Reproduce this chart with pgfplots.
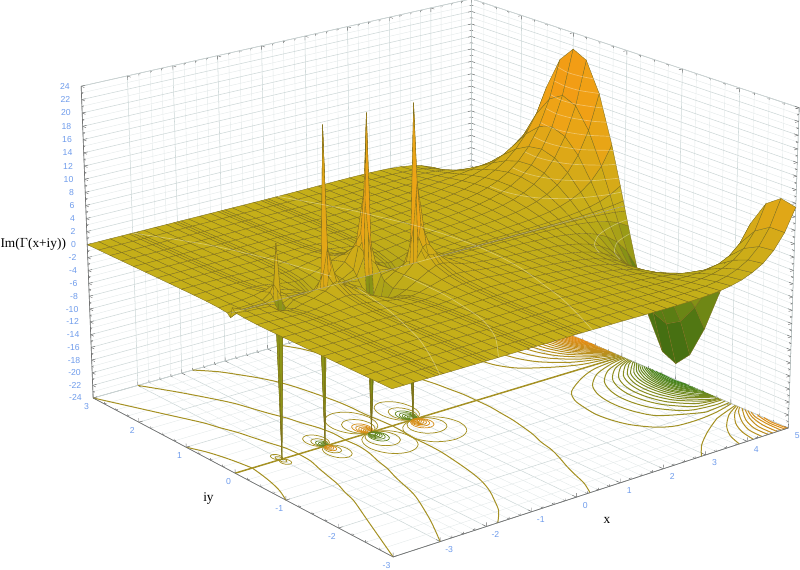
\documentclass[border=0pt]{standalone}
\usepackage{pgfplots}
\usepackage{pgfplotstable}
\pgfplotsset{compat=1.18}
\usepackage{fontspec}
\setmainfont{Liberation Serif}
\newfontfamily\tickfont{Liberation Sans}
\definecolor{tickblue}{RGB}{110,155,235}
\definecolor{wallgrid}{RGB}{205,215,215}
\definecolor{colive}{RGB}{165,145,35}
\definecolor{cup}{RGB}{235,140,20}
\definecolor{cdown}{RGB}{60,130,30}
\definecolor{meshline}{RGB}{125,110,30}
% perspective of the reference box, replaces the parallel projection
\makeatletter
\newdimen\pa \newdimen\pb \newdimen\pc \newdimen\pX \newdimen\pY \newdimen\pW
\def\perspqpoint#1#2#3{%
  \pa=#1pt \pb=#2pt \pc=#3pt
  \pX=333.04pt \advance\pX by 38.24\pa \advance\pX by -36.19\pb \advance\pX by -0.253\pc
  \pY=246.41pt \advance\pY by 11.70\pa \advance\pY by 22.29\pb \advance\pY by 5.156\pc
  \pW=1.07494pt \advance\pW by 0.00901\pa \advance\pW by 0.01883\pb \advance\pW by -0.000733\pc
  \pgf@x=\dimexpr\pX*65536/\pW\relax
  \pgf@y=\dimexpr\pY*65536/\pW\relax
}
\makeatother
% surface values, one row per x, columns in the order of \ylist
\def\ylist{-3,-2.75,-2.5,-2.25,-2,-1.75,-1.5,-1.25,-1,-0.75,-0.5,-0.25,-0.08,-0.02,0,0.02,0.08,0.25,0.5,0.75,1,1.25,1.5,1.75,2,2.25,2.5,2.75,3}
\def\coords{}
\newcommand\zr[2]{\foreach \v [count=\i] in {#2} {%
  \pgfmathparse{{\ylist}[\i-1]}\xdef\coords{\coords (#1,\pgfmathresult,\v)}}}
\zr{-4}{0,0,0,0,0,0,0,0,0,0.01,0.04,0.14,0.3,0.8,0,-0.8,-0.3,-0.14,-0.04,-0.01,0,0,0,0,0,0,0,0,0}
\zr{-3.75}{0,0,0,0,0,0,0,-0.01,-0.01,-0.01,0,0.04,0.04,0.01,0,-0.01,-0.04,-0.04,0,0.01,0.01,0.01,0,0,0,0,0,0,0}
\zr{-3.5}{0,0,0,0,0,0,-0.01,-0.01,-0.03,-0.05,-0.07,-0.07,-0.03,-0.01,0,0.01,0.03,0.07,0.07,0.05,0.03,0.01,0.01,0,0,0,0,0,0}
\zr{-3.25}{0,0,0,0,0,0,-0.01,-0.01,-0.03,-0.08,-0.16,-0.27,-0.17,-0.05,0,0.05,0.17,0.27,0.16,0.08,0.03,0.01,0.01,0,0,0,0,0,0}
\zr{-3.08}{0,0,0,0,0,0,0,-0.01,-0.03,-0.08,-0.21,-0.54,-1.04,-0.49,0,0.49,1.04,0.54,0.21,0.08,0.03,0.01,0,0,0,0,0,0,0}
\zr{-3}{0,0,0,0,0,0,0,0,-0.02,-0.06,-0.19,-0.58,-2.05,-24,0,8.33,2.05,0.58,0.19,0.06,0.02,0,0,0,0,0,0,0,0}
\zr{-2.92}{0,0,0,0,0,0,0,0,-0.01,-0.04,-0.17,-0.52,-1.04,-0.49,0,0.49,1.04,0.52,0.17,0.04,0.01,0,0,0,0,0,0,0,0}
\zr{-2.75}{0,0,0,0,0,0,0.01,0.02,0.03,0.02,-0.05,-0.18,-0.14,-0.04,0,0.04,0.14,0.18,0.05,-0.02,-0.03,-0.02,-0.01,0,0,0,0,0,0}
\zr{-2.5}{0,0,0,0,0,0.01,0.02,0.05,0.09,0.14,0.21,0.20,0.08,0.02,0,-0.02,-0.08,-0.20,-0.21,-0.14,-0.09,-0.05,-0.02,-0.01,0,0,0,0,0}
\zr{-2.25}{0,0,0,0,0,0.01,0.02,0.06,0.12,0.26,0.51,0.82,0.52,0.15,0,-0.15,-0.52,-0.82,-0.51,-0.26,-0.12,-0.06,-0.02,-0.01,0,0,0,0,0}
\zr{-2.08}{0,0,0,0,0,0.01,0.02,0.04,0.12,0.29,0.66,1.64,3.1,1.47,0,-1.47,-3.1,-1.64,-0.66,-0.29,-0.12,-0.04,-0.02,-0.01,0,0,0,0,0}
\zr{-2}{0,0,0,0,0,0,0.01,0.03,0.10,0.26,0.64,1.78,6.18,24,0,-24,-6.18,-1.78,-0.64,-0.26,-0.10,-0.03,-0.01,0,0,0,0,0,0}
\zr{-1.92}{0,0,0,0,0,-0.01,0,0.02,0.08,0.23,0.58,1.58,3.1,1.47,0,-1.47,-3.1,-1.58,-0.58,-0.23,-0.08,-0.02,0,0.01,0,0,0,0,0}
\zr{-1.75}{0,0,0,0,-0.01,-0.02,-0.03,-0.03,-0.01,0.06,0.28,0.65,0.45,0.13,0,-0.13,-0.45,-0.65,-0.28,-0.06,0.01,0.03,0.03,0.02,0.01,0,0,0,0}
\zr{-1.5}{0,0,0,-0.01,-0.02,-0.04,-0.07,-0.11,-0.17,-0.26,-0.35,-0.32,-0.13,-0.03,0,0.03,0.13,0.32,0.35,0.26,0.17,0.11,0.07,0.04,0.02,0.01,0,0,0}
\zr{-1.25}{0,0,0,-0.01,-0.02,-0.04,-0.09,-0.16,-0.31,-0.58,-1.06,-1.67,-1.05,-0.29,0,0.29,1.05,1.67,1.06,0.58,0.31,0.16,0.09,0.04,0.02,0.01,0,0,0}
\zr{-1.08}{0,0,0,-0.01,-0.02,-0.04,-0.08,-0.17,-0.35,-0.69,-1.43,-3.35,-6.2,-2.9,0,2.9,6.2,3.35,1.43,0.69,0.35,0.17,0.08,0.04,0.02,0.01,0,0,0}
\zr{-1}{0,0,0,0,-0.01,-0.03,-0.07,-0.16,-0.33,-0.67,-1.44,-3.67,-12.4,-24,0,24,12.4,3.67,1.44,0.67,0.33,0.16,0.07,0.03,0.01,0,0,0,0}
\zr{-0.92}{0,0,0,0,-0.01,-0.02,-0.06,-0.15,-0.31,-0.63,-1.37,-3.31,-6.2,-2.9,0,2.9,6.2,3.31,1.37,0.63,0.31,0.15,0.06,0.02,0.01,0,0,0,0}
\zr{-0.75}{0,0,0.01,0.01,0.01,0,-0.02,-0.07,-0.19,-0.42,-0.89,-1.55,-1.0,-0.28,0,0.28,1.0,1.55,0.89,0.42,0.19,0.07,0.02,0,-0.01,-0.01,-0.01,0,0}
\zr{-0.5}{0,0.01,0.02,0.03,0.04,0.05,0.06,0.07,0.07,0.07,0.06,0.03,0.01,0,0,0,-0.01,-0.03,-0.06,-0.07,-0.07,-0.07,-0.06,-0.05,-0.04,-0.03,-0.02,-0.01,0}
\zr{-0.25}{0,0.01,0.03,0.04,0.06,0.09,0.14,0.21,0.33,0.57,1.01,1.61,1.02,0.29,0,-0.29,-1.02,-1.61,-1.01,-0.57,-0.33,-0.21,-0.14,-0.09,-0.06,-0.04,-0.03,-0.01,0}
\zr{-0.08}{0.01,0.01,0.03,0.05,0.07,0.11,0.18,0.29,0.47,0.81,1.51,3.38,6.2,3.0,0,-3.0,-6.2,-3.38,-1.51,-0.81,-0.47,-0.29,-0.18,-0.11,-0.07,-0.05,-0.03,-0.01,-0.01}
\zr{0}{0.01,0.01,0.03,0.05,0.08,0.12,0.19,0.31,0.50,0.86,1.60,3.77,12.43,24,0,-24,-12.43,-3.77,-1.60,-0.86,-0.50,-0.31,-0.19,-0.12,-0.08,-0.05,-0.03,-0.01,-0.01}
\zr{0.08}{0,0.01,0.03,0.05,0.08,0.13,0.20,0.33,0.53,0.89,1.61,3.46,6.2,2.9,0,-2.9,-6.2,-3.46,-1.61,-0.89,-0.53,-0.33,-0.20,-0.13,-0.08,-0.05,-0.03,-0.01,0}
\zr{0.25}{0,0.01,0.02,0.04,0.08,0.13,0.21,0.33,0.52,0.82,1.31,1.84,1.11,0.31,0,-0.31,-1.11,-1.84,-1.31,-0.82,-0.52,-0.33,-0.21,-0.13,-0.08,-0.04,-0.02,-0.01,0}
\zr{0.5}{-0.01,0,0.01,0.03,0.06,0.11,0.18,0.28,0.43,0.60,0.76,0.67,0.28,0.07,0,-0.07,-0.28,-0.67,-0.76,-0.60,-0.43,-0.28,-0.18,-0.11,-0.06,-0.03,-0.01,0,0.01}
\zr{0.75}{-0.02,-0.02,-0.01,0,0.03,0.07,0.12,0.20,0.29,0.38,0.41,0.29,0.11,0.03,0,-0.03,-0.11,-0.29,-0.41,-0.38,-0.29,-0.20,-0.12,-0.07,-0.03,0,0.01,0.02,0.02}
\zr{1}{-0.03,-0.04,-0.04,-0.04,-0.02,0.01,0.05,0.10,0.16,0.20,0.20,0.13,0.05,0.01,0,-0.01,-0.05,-0.13,-0.20,-0.20,-0.16,-0.10,-0.05,-0.01,0.02,0.04,0.04,0.04,0.03}
\zr{1.25}{-0.05,-0.06,-0.08,-0.08,-0.08,-0.07,-0.04,-0.01,0.03,0.06,0.07,0.05,0.02,0,0,0,-0.02,-0.05,-0.07,-0.06,-0.03,0.01,0.04,0.07,0.08,0.08,0.08,0.06,0.05}
\zr{1.5}{-0.07,-0.09,-0.12,-0.14,-0.15,-0.15,-0.14,-0.12,-0.09,-0.06,-0.03,-0.01,0,0,0,0,0,0.01,0.03,0.06,0.09,0.12,0.14,0.15,0.15,0.14,0.12,0.09,0.07}
\zr{1.75}{-0.08,-0.12,-0.16,-0.20,-0.23,-0.25,-0.25,-0.24,-0.21,-0.17,-0.11,-0.06,-0.02,0,0,0,0.02,0.06,0.11,0.17,0.21,0.24,0.25,0.25,0.23,0.20,0.16,0.12,0.08}
\zr{2}{-0.09,-0.15,-0.21,-0.27,-0.32,-0.36,-0.38,-0.38,-0.34,-0.28,-0.20,-0.10,-0.03,-0.01,0,0.01,0.03,0.10,0.20,0.28,0.34,0.38,0.38,0.36,0.32,0.27,0.21,0.15,0.09}
\zr{2.25}{-0.09,-0.17,-0.25,-0.35,-0.43,-0.50,-0.54,-0.54,-0.50,-0.42,-0.31,-0.16,-0.05,-0.01,0,0.01,0.05,0.16,0.31,0.42,0.50,0.54,0.54,0.50,0.43,0.35,0.25,0.17,0.09}
\zr{2.5}{-0.07,-0.17,-0.29,-0.43,-0.56,-0.66,-0.73,-0.75,-0.71,-0.60,-0.44,-0.23,-0.07,-0.02,0,0.02,0.07,0.23,0.44,0.60,0.71,0.75,0.73,0.66,0.56,0.43,0.29,0.17,0.07}
\zr{2.75}{-0.03,-0.16,-0.32,-0.51,-0.70,-0.87,-0.98,-1.02,-0.98,-0.84,-0.61,-0.32,-0.11,-0.03,0,0.03,0.11,0.32,0.61,0.84,0.98,1.02,0.98,0.87,0.70,0.51,0.32,0.16,0.03}
\zr{3}{0.06,-0.10,-0.33,-0.60,-0.87,-1.12,-1.30,-1.39,-1.34,-1.16,-0.85,-0.45,-0.15,-0.04,0,0.04,0.15,0.45,0.85,1.16,1.34,1.39,1.30,1.12,0.87,0.60,0.33,0.10,-0.06}
\zr{3.25}{0.21,0,-0.30,-0.67,-1.07,-1.44,-1.73,-1.88,-1.84,-1.61,-1.19,-0.64,-0.21,-0.05,0,0.05,0.21,0.64,1.19,1.61,1.84,1.88,1.73,1.44,1.07,0.67,0.30,0,-0.21}
\zr{3.5}{0.47,0.21,-0.19,-0.71,-1.29,-1.85,-2.30,-2.55,-2.54,-2.25,-1.68,-0.90,-0.29,-0.07,0,0.07,0.29,0.90,1.68,2.25,2.54,2.55,2.30,1.85,1.29,0.71,0.19,-0.21,-0.47}
\zr{3.75}{0.87,0.57,0.04,-0.69,-1.53,-2.37,-3.07,-3.50,-3.54,-3.16,-2.38,-1.28,-0.42,-0.10,0,0.10,0.42,1.28,2.38,3.16,3.54,3.50,3.07,2.37,1.53,0.69,-0.04,-0.57,-0.87}
\zr{4}{1.51,1.18,0.48,-0.54,-1.77,-3.03,-4.12,-4.83,-4.98,-4.50,-3.41,-1.84,-0.60,-0.15,0,0.15,0.60,1.84,3.41,4.50,4.98,4.83,4.12,3.03,1.77,0.54,-0.48,-1.18,-1.51}
\zr{4.25}{2.42,2.10,1.22,-0.20,-1.98,-3.88,-5.57,-6.72,-7.07,-6.47,-4.94,-2.67,-0.88,-0.22,0,0.22,0.88,2.67,4.94,6.47,7.07,6.72,5.57,3.88,1.98,0.20,-1.22,-2.10,-2.42}
\zr{4.5}{3.90,3.65,2.54,0.56,-2.05,-4.92,-7.57,-9.44,-10.13,-9.39,-7.23,-3.93,-1.29,-0.32,0,0.32,1.29,3.93,7.23,9.39,10.13,9.44,7.57,4.92,2.05,-0.56,-2.54,-3.65,-3.90}
\zr{4.75}{6.11,6.09,4.71,1.99,-1.84,-6.21,-10.33,-13.39,-14.67,-13.78,-10.69,-5.84,-1.92,-0.48,0,0.48,1.92,5.84,10.69,13.78,14.67,13.39,10.33,6.21,1.84,-1.99,-4.71,-6.09,-6.11}
\zr{5}{9.41,9.92,8.35,4.57,-1.06,-7.72,-14.19,-19.15,-21.47,-20.43,-15.98,-8.76,-2.89,-0.72,0,0.72,2.89,8.76,15.98,20.43,21.47,19.15,14.19,7.72,1.06,-4.57,-8.35,-9.92,-9.41}
\pgfplotsset{
  gamma surf/.style={surf,shader=faceted,faceted color=meshline,line width=0.25pt,z buffer=sort,
    mesh/rows=45,mesh/cols=29,point meta=z,forget plot},
  cline/.style={no marks,smooth,tension=0.5,line width=0.75pt,forget plot},
  wline/.style={no marks,smooth,tension=0.5,draw=white,draw opacity=0.35,line width=0.5pt,forget plot},
}
% contour on the floor, same curve on both sides of the real axis
\newcommand\lobe[3]{%
  \addplot3[cline,draw=cup!#1!colive] table[row sep=\\,header=false,x index=0,y index=1,z expr=-24] {#3};
  \addplot3[cline,draw=cdown!#2!colive] table[row sep=\\,header=false,x index=0,y expr=-\thisrowno{1},z expr=-24] {#3};
}
% same for the far side, where the sign of the level is the other way round
\newcommand\rlobe[3]{%
  \addplot3[cline,draw=cdown!#1!colive] table[row sep=\\,header=false,x index=0,y index=1,z expr=-24] {#3};
  \addplot3[cline,draw=cup!#2!colive] table[row sep=\\,header=false,x index=0,y expr=-\thisrowno{1},z expr=-24] {#3};
}
% white level line lying on the surface
\newcommand\lift[2]{%
  \addplot3[wline] table[row sep=\\,header=false,x index=0,y index=1,z expr=#1] {#2};
}
\pgfplotstableread[row sep=\\]{
cx cy cz\\ 1 0 0\\ 0.92 0.38 0\\ 0.71 0.71 0\\ 0.38 0.92 0\\ 0 1 0\\ -0.38 0.92 0\\ -0.71 0.71 0\\ -0.92 0.38 0\\
-1 0 0\\ -0.92 -0.38 0\\ -0.71 -0.71 0\\ -0.38 -0.92 0\\ 0 -1 0\\ 0.38 -0.92 0\\ 0.71 -0.71 0\\ 0.92 -0.38 0\\ 1 0 0\\
}\unitcirc
% rings around a pole: position, side, stretch along x, colour, radii
\newcommand\rings[5]{\pgfplotsinvokeforeach{#5}{%
  \addplot3[cline,draw=#4,line width=0.55pt] table[x expr=#1+#3*##1*\thisrow{cx},y expr=#2*##1*(1+\thisrow{cy}),z expr=-24] {\unitcirc};}}
\begin{document}
\begin{tikzpicture}
\useasboundingbox ({-413.3*0.75pt},{-305.7*0.75pt}) rectangle ({386.7*0.75pt},{263.3*0.75pt});
\begin{axis}[
  at={(0,0)},anchor=origin,
  disabledatascaling,
  execute at begin axis={\global\let\pgfplotsqpointxyz\perspqpoint},
  x={(33pt,10.7pt)},y={(-37.5pt,19.9pt)},z={(0pt,4.875pt)},
  xmin=-4,xmax=5,ymin=-3,ymax=3,zmin=-24,zmax=24,
  xtick={-3,...,5},ytick={-3,...,3},ztick={-24,-22,...,24},
  minor x tick num=3,minor y tick num=3,minor z tick num=1,
  grid=both,
  major grid style={wallgrid,line width=0.4pt},
  minor grid style={wallgrid!55,line width=0.3pt},
  axis line style={wallgrid!85!black,line width=0.4pt},
  tick style={black!60,line width=0.3pt},
  major tick length=3pt,minor tick length=1.5pt,
  /pgf/number format/assume math mode=true,
  tick label style={font=\tickfont\fontsize{6.5}{7}\selectfont,text=tickblue},
  xticklabel style={anchor=center,xshift=6.75pt,yshift=-6pt},
  yticklabel style={anchor=center,xshift=-5pt,yshift=-6.5pt},
  zticklabel style={anchor=east,xshift=-5pt},
  colormap={gammamap}{rgb255(0pt)=(45,95,15); rgb255(12pt)=(90,125,20); rgb255(24pt)=(197,175,25); rgb255(36pt)=(238,163,22); rgb255(48pt)=(247,150,20)},
  point meta min=-24,point meta max=24,
  xlabel={x},ylabel={iy},zlabel={Im($\Gamma$(x+iy))},
  xlabel style={at={(axis cs:-0.25,-3.72,-24)},anchor=center,font=\fontsize{10}{11}\selectfont},
  ylabel style={at={(axis cs:-5.02,-0.42,-24)},anchor=center,font=\fontsize{10}{11}\selectfont},
  zlabel style={at={(axis cs:-4,3,0)},anchor=center,yshift=40.5pt,rotate=-90,font=\fontsize{10}{11}\selectfont},
  clip=false,
]
% floor: real axis
\addplot3[no marks,draw=colive,line width=1.1pt,forget plot] coordinates {(-4,0,-24) (5,0,-24)};
% floor: level zero
\rlobe{0}{0}{1.46 0.01\\1.46 0.25\\1.42 0.5\\1.38 0.75\\1.31 1\\1.23 1.25\\1.11 1.5\\1.03 1.75\\0.9 2\\0.75 2.25\\0.62 2.5\\0.5 2.75\\0.31 3\\}
\rlobe{0}{0}{-0.5 0.01\\-0.52 0.25\\-0.55 0.5\\-0.55 0.75\\-0.57 1\\-0.62 1.25\\-0.68 1.5\\-0.75 1.75\\-0.85 2\\-1 2.25\\-1.2 2.5\\-1.42 2.75\\-1.75 3\\}
\rlobe{0}{0}{-1.57 0.01\\-1.55 0.25\\-1.6 0.5\\-1.7 0.75\\-1.78 1\\-1.9 1.25\\-2 1.5\\-2.1 1.75\\-2.25 2\\-2.6 2.5\\-3 3\\}
\rlobe{0}{0}{-2.61 0.01\\-2.63 0.25\\-2.72 0.5\\-2.8 0.75\\-2.88 1\\-3 1.25\\-3.1 1.5\\-3.4 2\\-3.7 2.5\\-4 3\\}
\rlobe{0}{0}{-3.63 0.01\\-3.68 0.25\\-3.75 0.5\\-3.85 0.75\\-4 1\\}
\rlobe{0}{0}{2.9 3\\3.25 2.75\\3.73 2.5\\4.31 2.25\\4.5 2.2\\5 2.08\\}
% floor: levels on the side of the hump (y>0) and of the dip (y<0)
\lobe{4}{4}{5 0.03\\4.2 0.1\\3.67 0.25\\3.11 0.5\\2.87 0.75\\2.78 1\\2.73 1.25\\2.77 1.5\\2.89 1.75\\3.17 2\\3.5 2.12\\4 2.14\\4.5 2.1\\5 2.01\\}
\lobe{9}{9}{5 0.055\\4.63 0.1\\4.06 0.25\\3.62 0.5\\3.41 0.75\\3.32 1\\3.31 1.25\\3.38 1.5\\3.58 1.75\\4.28 2\\4.5 2.01\\5 1.97\\}
\lobe{14}{14}{5 0.083\\4.89 0.1\\4.33 0.25\\3.91 0.5\\3.71 0.75\\3.62 1\\3.63 1.25\\3.73 1.5\\3.99 1.75\\4.25 1.87\\4.75 1.92\\5 1.9\\}
\lobe{19}{19}{5 0.11\\4.51 0.25\\4.11 0.5\\3.92 0.75\\3.84 1\\3.86 1.25\\3.98 1.5\\4.28 1.75\\4.5 1.83\\5 1.85\\}
\lobe{24}{24}{5 0.138\\4.65 0.25\\4.26 0.5\\4.07 0.75\\4 1\\4.03 1.25\\4.16 1.5\\4.52 1.75\\5 1.82\\}
\lobe{29}{29}{5 0.166\\4.76 0.25\\4.38 0.5\\4.2 0.75\\4.13 1\\4.16 1.25\\4.31 1.5\\4.71 1.75\\5 1.79\\}
\lobe{33}{33}{5 0.19\\4.85 0.25\\4.48 0.5\\4.3 0.75\\4.24 1\\4.28 1.25\\4.43 1.5\\4.85 1.75\\5 1.77\\}
\lobe{38}{38}{5 0.22\\4.94 0.25\\4.56 0.5\\4.39 0.75\\4.34 1\\4.38 1.25\\4.54 1.5\\5 1.74\\}
\lobe{43}{43}{5 0.25\\4.64 0.5\\4.47 0.75\\4.42 1\\4.46 1.25\\4.64 1.5\\5 1.71\\}
\lobe{48}{48}{5 0.28\\4.71 0.5\\4.54 0.75\\4.49 1\\4.54 1.25\\4.73 1.5\\5 1.68\\}
\lobe{52}{52}{5 0.31\\4.77 0.5\\4.6 0.75\\4.55 1\\4.6 1.25\\4.8 1.5\\5 1.64\\}
\lobe{57}{57}{5 0.34\\4.82 0.5\\4.66 0.75\\4.61 1\\4.67 1.25\\4.89 1.5\\5 1.6\\}
\lobe{62}{62}{5 0.38\\4.87 0.5\\4.71 0.75\\4.66 1\\4.72 1.25\\4.94 1.5\\5 1.55\\}
\lobe{67}{67}{5 0.42\\4.92 0.5\\4.76 0.75\\4.71 1\\4.78 1.25\\4.99 1.5\\5 1.5\\}
\lobe{71}{71}{5 0.46\\4.96 0.5\\4.8 0.75\\4.76 1\\4.82 1.25\\5 1.46\\}
\lobe{76}{76}{5 0.5\\4.84 0.75\\4.81 1\\4.87 1.25\\5 1.41\\}
\lobe{81}{81}{5 0.53\\4.88 0.75\\4.85 1\\4.91 1.25\\5 1.36\\}
\lobe{86}{86}{5 0.57\\4.92 0.75\\4.88 1\\4.96 1.25\\5 1.32\\}
\lobe{90}{90}{5 0.64\\4.96 0.75\\4.92 1\\5 1.25\\}
\lobe{95}{95}{5 0.72\\4.99 0.75\\4.96 1\\5 1.2\\}
% floor: levels beyond the zero line at the right
\rlobe{5}{5}{3.81 3\\3.94 2.75\\4.2 2.5\\4.61 2.25\\5 2.1\\}
\rlobe{15}{15}{4.15 3\\4.23 2.75\\4.42 2.5\\4.75 2.25\\5 2.13\\}
\rlobe{25}{25}{4.36 3\\4.39 2.75\\4.57 2.5\\4.84 2.25\\5 2.16\\}
\rlobe{35}{35}{4.51 3\\4.52 2.75\\4.67 2.5\\4.94 2.25\\5 2.2\\}
\rlobe{45}{45}{4.62 3\\4.63 2.75\\4.77 2.5\\5 2.25\\}
\rlobe{55}{55}{4.73 3\\4.74 2.75\\4.84 2.5\\5 2.3\\}
\rlobe{65}{65}{4.83 3\\4.84 2.75\\4.9 2.5\\5 2.36\\}
\rlobe{75}{75}{4.92 3\\4.9 2.75\\4.98 2.5\\5 2.49\\}
\rlobe{85}{85}{4.98 3\\4.96 2.75\\5 2.58\\}
% floor: rings at the poles
\rings{0}{1}{1}{colive}{0.34,0.22}
\rings{0}{1}{1}{cdown!60!colive}{0.16,0.125,0.1,0.08,0.06,0.045}
\rings{0}{-1}{1.4}{colive}{0.4,0.25}
\rings{0}{-1}{1.2}{cup!70!colive}{0.16,0.125,0.1,0.08,0.06,0.045,0.03}
\rings{-1}{1}{1.1}{colive}{0.38,0.24}
\rings{-1}{1}{1}{cup!70!colive}{0.16,0.125,0.1,0.08,0.06,0.045,0.03}
\rings{-1}{-1}{1.2}{colive}{0.38,0.24}
\rings{-1}{-1}{1}{cdown!60!colive}{0.16,0.125,0.1,0.08,0.06,0.045}
\rings{-2}{1}{1}{colive}{0.2,0.13}
\rings{-2}{1}{1}{cdown!60!colive}{0.09,0.065,0.045,0.03}
\rings{-2}{-1}{1}{colive}{0.22,0.13}
\rings{-2}{-1}{1}{cup!70!colive}{0.09,0.065,0.045,0.03}
\rings{-3}{1}{1}{colive}{0.09,0.05}
\rings{-3}{-1}{1}{colive}{0.09,0.05}
% the surface
\edef\doplot{\noexpand\addplot3[gamma surf] coordinates {\coords};}\doplot
% level lines on the surface
\addplot3[wline] coordinates {(-4,0,0) (5,0,0)};
\lift{0}{1.46 -0.01\\1.42 -0.5\\1.31 -1\\1.11 -1.5\\0.9 -2\\0.62 -2.5\\0.31 -3\\}
\lift{0}{1.46 0.01\\1.42 0.5\\1.31 1\\1.11 1.5\\0.9 2\\0.62 2.5\\0.31 3\\}
\lift{0}{-0.52 -0.25\\-0.57 -1\\-0.68 -1.5\\-0.85 -2\\-1.2 -2.5\\-1.75 -3\\}
\lift{0}{-1.55 -0.25\\-1.78 -1\\-2 -1.5\\-2.25 -2\\-2.6 -2.5\\-3 -3\\}
\lift{0}{-1.55 0.25\\-1.78 1\\-2 1.5\\-2.25 2\\-2.6 2.5\\-3 3\\}
\lift{2}{5 0.055\\4.63 0.1\\4.06 0.25\\3.62 0.5\\3.41 0.75\\3.32 1\\3.31 1.25\\}
\lift{4}{5 0.11\\4.51 0.25\\4.11 0.5\\3.92 0.75\\3.84 1\\3.86 1.25\\}
\lift{6}{5 0.166\\4.76 0.25\\4.38 0.5\\4.2 0.75\\4.13 1\\4.16 1.25\\}
\lift{8}{5 0.22\\4.94 0.25\\4.56 0.5\\4.39 0.75\\4.34 1\\4.38 1.25\\}
\lift{10}{5 0.28\\4.71 0.5\\4.54 0.75\\4.49 1\\4.54 1.25\\}
\lift{12}{5 0.34\\4.82 0.5\\4.66 0.75\\4.61 1\\4.67 1.25\\}
\lift{14}{5 0.42\\4.92 0.5\\4.76 0.75\\4.71 1\\4.78 1.25\\}
\lift{16}{5 0.5\\4.84 0.75\\4.81 1\\4.87 1.25\\}
\lift{18}{5 0.57\\4.92 0.75\\4.88 1\\4.96 1.25\\}
\lift{-2}{5 -0.055\\4.63 -0.1\\4.06 -0.25\\3.62 -0.5\\3.41 -0.75\\}
\lift{-4}{5 -0.11\\4.51 -0.25\\4.11 -0.5\\3.92 -0.75\\}
% darker edges that carry the ticks
\draw[black!55,line width=0.5pt] (axis cs:-4,3,24) -- (axis cs:-4,3,-24) -- (axis cs:-4,-3,-24) -- (axis cs:5,-3,-24);
\end{axis}
\end{tikzpicture}
\end{document}
